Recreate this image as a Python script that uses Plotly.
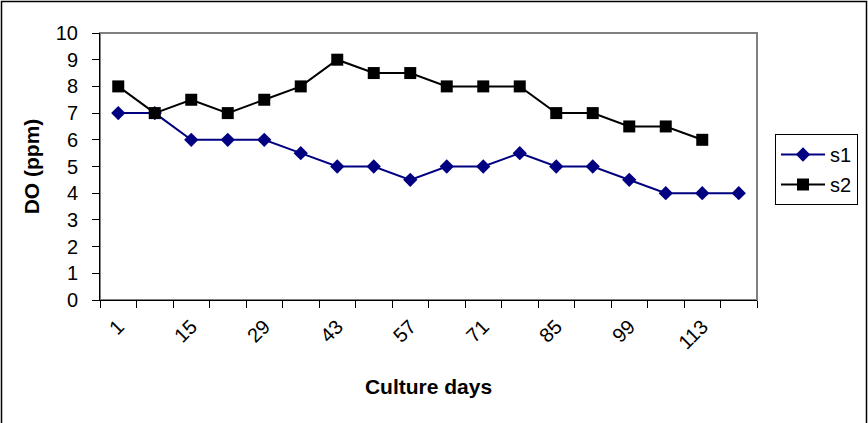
import plotly.graph_objects as go

days = [1, 8, 15, 22, 29, 36, 43, 50, 57, 64, 71, 78, 85, 92, 99, 106, 113, 120]
s1 = [7, 7, 6, 6, 6, 5.5, 5, 5, 4.5, 5, 5, 5.5, 5, 5, 4.5, 4, 4, 4]
s2 = [8, 7, 7.5, 7, 7.5, 8, 9, 8.5, 8.5, 8, 8, 8, 7, 7, 6.5, 6.5, 6]
tick_days = [1, 15, 29, 43, 57, 71, 85, 99, 113]
y_ticks = list(range(0, 11))

FONT = "Liberation Sans, Arial, sans-serif"

fig = go.Figure()
fig.add_trace(go.Scatter(
    x=days, y=s1, name="s1", mode="lines+markers", legendgroup="a",
    line=dict(color="#000080", width=2),
    marker=dict(symbol="diamond", size=11, color="#000080"),
))
fig.add_trace(go.Scatter(
    x=days[:len(s2)], y=s2, name="s2", mode="lines+markers", legendgroup="b",
    line=dict(color="#000000", width=2),
    marker=dict(symbol="square", size=12, color="#000000"),
))

W, H = 868, 423
L, R, T, B = 100, 757, 33, 300
pw, ph = R - L, B - T

def px(x):
    return (x - L) / pw

def py(y):
    return (B - y) / ph

fig.update_layout(
    width=W, height=H,
    margin=dict(l=L, r=W - R, t=T, b=H - B, autoexpand=False),
    paper_bgcolor="white", plot_bgcolor="white",
    font=dict(family=FONT, size=20, color="black"),
    showlegend=True,
    legend=dict(
        x=px(775), y=py(134), xanchor="left", yanchor="top",
        bordercolor="black", borderwidth=1, bgcolor="white",
        font=dict(size=20, family=FONT),
        itemwidth=44, tracegroupgap=1, traceorder="grouped",
    ),
    xaxis=dict(
        range=[-2.5, 123.5],
        tickmode="array", tickvals=tick_days, ticktext=[str(d) for d in tick_days],
        tickangle=-45, ticks="", showgrid=False, zeroline=False,
        showline=True, linecolor="black", linewidth=1,
        tickfont=dict(size=20), ticklabelstandoff=6,
        minor=dict(ticks="outside", tick0=-2.5, dtick=7, ticklen=7,
                   tickcolor="black", showgrid=False),
        title=dict(text="<b>Culture days</b>", font=dict(size=21), standoff=26),
    ),
    yaxis=dict(
        range=[0, 10], tickvals=y_ticks, ticks="outside", ticklen=7,
        tickcolor="black", showgrid=False, zeroline=False,
        showline=True, linecolor="black", linewidth=1,
        tickfont=dict(size=20), ticklabelstandoff=10,
        title=dict(text="<b>DO (ppm)</b>", font=dict(size=21), standoff=10),
    ),
    shapes=[
        dict(type="rect", xref="paper", yref="paper", x0=0, x1=1, y0=0, y1=1,
             line=dict(color="#808080", width=2), layer="below"),
        dict(type="rect", xref="paper", yref="paper",
             x0=px(1.5), x1=px(866.5), y0=py(430), y1=py(1.5),
             line=dict(color="black", width=1.5), layer="below"),
    ],
)

fig.write_html("out.html", config={"displayModeBar": False},
               post_script="document.body.style.margin='0px';")
